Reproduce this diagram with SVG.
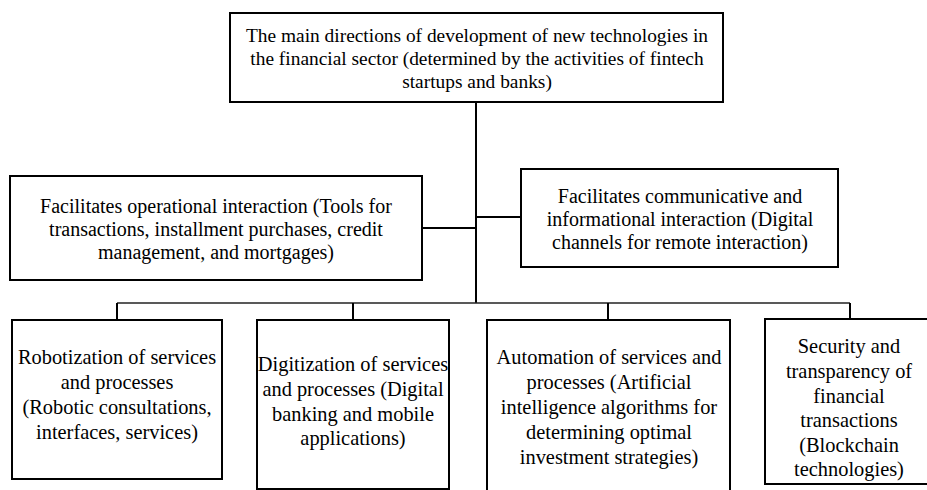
<svg xmlns="http://www.w3.org/2000/svg" width="927" height="490" viewBox="0 0 927 490">
<style>
.box{fill:#fff;stroke:#000;stroke-width:2}
.ln{fill:none;stroke:#000;stroke-width:2}
.thin{stroke:#222;stroke-width:1.6}
text{font-family:"Liberation Serif","Times New Roman",serif;font-size:20px;fill:#000;text-anchor:middle}
.t{font-size:19.4px}
.b{font-size:20.4px}
</style>
<rect width="927" height="490" fill="#fff"/>
<g id="connectors">
<line class="ln" x1="476" y1="102" x2="476" y2="303"/>
<line class="ln" x1="422" y1="228" x2="476" y2="228"/>
<line class="ln" x1="476" y1="217" x2="521" y2="217"/>
<line class="ln thin" x1="117" y1="303" x2="850" y2="303"/>
<line class="ln" x1="117" y1="303" x2="117" y2="320"/>
<line class="ln" x1="353" y1="303" x2="353" y2="320"/>
<line class="ln" x1="608" y1="303" x2="608" y2="320"/>
<line class="ln" x1="850" y1="303" x2="850" y2="319"/>
</g>
<g id="top">
<rect class="box" x="230" y="13" width="493" height="89"/>
<text class="t" x="477" y="42">The main directions of development of new technologies in</text>
<text class="t" x="477" y="65">the financial sector (determined by the activities of fintech</text>
<text class="t" x="477" y="88">startups and banks)</text>
</g>
<g id="operational">
<rect class="box" x="10" y="176" width="412" height="104"/>
<text x="216" y="213">Facilitates operational interaction (Tools for</text>
<text x="216" y="236">transactions, installment purchases, credit</text>
<text x="216" y="259">management, and mortgages)</text>
</g>
<g id="communicative">
<rect class="box" x="521" y="169" width="317" height="98"/>
<text x="680" y="203">Facilitates communicative and</text>
<text x="680" y="226">informational interaction (Digital</text>
<text x="680" y="249">channels for remote interaction)</text>
</g>
<g id="robotization">
<rect class="box" x="12" y="320" width="210" height="159"/>
<text class="b" x="117" y="364">Robotization of services</text>
<text class="b" x="117" y="389">and processes</text>
<text class="b" x="117" y="414">(Robotic consultations,</text>
<text class="b" x="117" y="439">interfaces, services)</text>
</g>
<g id="digitization">
<rect class="box" x="257" y="320" width="192" height="169"/>
<text class="b" x="353" y="371">Digitization of services</text>
<text class="b" x="353" y="396">and processes (Digital</text>
<text class="b" x="353" y="421">banking and mobile</text>
<text class="b" x="353" y="445">applications)</text>
</g>
<g id="automation">
<rect class="box" x="487" y="320" width="243" height="180"/>
<text class="b" x="609" y="364">Automation of services and</text>
<text class="b" x="609" y="389">processes (Artificial</text>
<text class="b" x="609" y="414">intelligence algorithms for</text>
<text class="b" x="609" y="439">determining optimal</text>
<text class="b" x="609" y="464">investment strategies)</text>
</g>
<g id="security">
<rect class="box" x="765" y="319" width="170" height="165"/>
<text class="b" x="849" y="353">Security and</text>
<text class="b" x="849" y="378">transparency of</text>
<text class="b" x="849" y="403">financial</text>
<text class="b" x="849" y="427">transactions</text>
<text class="b" x="849" y="452">(Blockchain</text>
<text class="b" x="849" y="476">technologies)</text>
</g>
</svg>
